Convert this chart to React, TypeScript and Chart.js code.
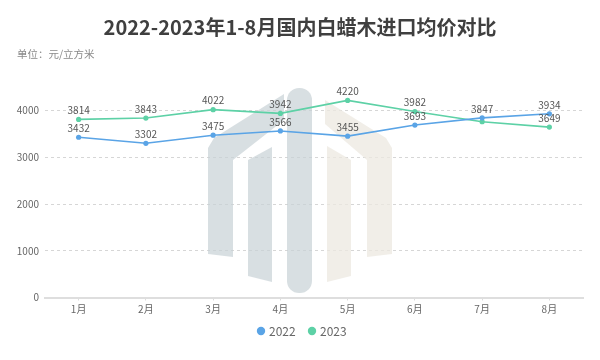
import React, { useEffect, useRef } from "react";
import { Chart, registerables } from "chart.js";

Chart.register(...registerables);

const categories = ["1月", "2月", "3月", "4月", "5月", "6月", "7月", "8月"];
const series2022 = [3432, 3302, 3475, 3566, 3455, 3693, 3847, 3934];
const series2023 = [3814, 3843, 4022, 3942, 4220, 3982, 3765, 3649];
const yTicks = [0, 1000, 2000, 3000, 4000];

const TITLE = "2022-2023年1-8月国内白蜡木进口均价对比";
const SUBTITLE = "单位：元/立方米";
const FONT = '"Noto Sans CJK SC", "Noto Sans", sans-serif';
const BLUE = "#5aa4e6";
const GREEN = "#5dd1a6";

const decorPlugin = {
  id: "decor",
  beforeDatasetsDraw(chart: any) {
    const ctx = chart.ctx;
    ctx.save();
    // watermark logo
    const gray = "rgba(200,210,214,0.7)";
    const beige = "rgba(236,232,224,0.75)";
    const poly = (pts: number[][], color: string) => {
      ctx.beginPath();
      ctx.moveTo(pts[0][0], pts[0][1]);
      for (let i = 1; i < pts.length; i++) ctx.lineTo(pts[i][0], pts[i][1]);
      ctx.closePath();
      ctx.fillStyle = color;
      ctx.fill();
    };
    poly([[208, 254], [208, 148], [214, 138], [284, 94], [284, 120], [233, 160], [233, 257]], gray);
    poly([[248, 276], [248, 160], [272, 147], [272, 282]], gray);
    ctx.beginPath();
    ctx.fillStyle = gray;
    (ctx as any).roundRect(287, 88, 25, 205, 12);
    ctx.fill();
    poly([[392, 254], [392, 148], [386, 138], [325, 100], [325, 124], [367, 160], [367, 257]], beige);
    poly([[327, 146], [351, 160], [351, 276], [327, 282]], beige);
    ctx.restore();
  },
  afterDraw(chart: any) {
    const ctx = chart.ctx;
    ctx.save();
    // title
    ctx.fillStyle = "#3f3f3f";
    ctx.font = `bold 20px ${FONT}`;
    ctx.textAlign = "center";
    ctx.textBaseline = "middle";
    ctx.fillText(TITLE, 300, 27);
    // subtitle
    ctx.fillStyle = "#8a8a8a";
    ctx.font = `10.5px ${FONT}`;
    ctx.textAlign = "left";
    ctx.fillText(SUBTITLE, 17, 54);
    // data labels with overlap hiding
    ctx.font = `10px ${FONT}`;
    ctx.fillStyle = "#555";
    ctx.textAlign = "center";
    ctx.textBaseline = "bottom";
    const boxes: number[][] = [];
    chart.data.datasets.forEach((ds: any, di: number) => {
      const meta = chart.getDatasetMeta(di);
      meta.data.forEach((pt: any, i: number) => {
        const txt = String(ds.data[i]);
        const w = ctx.measureText(txt).width;
        const x = pt.x;
        const yb = pt.y - 4;
        const b = [x - w / 2, yb - 11, x + w / 2, yb];
        const hit = boxes.some(
          (o) => !(b[2] < o[0] || b[0] > o[2] || b[3] < o[1] || b[1] > o[3])
        );
        if (hit) return;
        boxes.push(b);
        ctx.fillText(txt, x, yb);
      });
    });
    // legend
    const items = [
      { label: "2022", color: BLUE, x: 261 },
      { label: "2023", color: GREEN, x: 312 },
    ];
    ctx.font = `12px ${FONT}`;
    ctx.textBaseline = "middle";
    ctx.textAlign = "left";
    items.forEach((it) => {
      ctx.beginPath();
      ctx.fillStyle = it.color;
      ctx.arc(it.x, 331, 4.2, 0, Math.PI * 2);
      ctx.fill();
      ctx.fillStyle = "#666";
      ctx.fillText(it.label, it.x + 8, 331);
    });
    ctx.restore();
  },
};

export default function App() {
  const ref = useRef<HTMLCanvasElement>(null);
  useEffect(() => {
    if (!ref.current) return;
    const chart = new Chart(ref.current, {
      type: "line",
      data: {
        labels: categories,
        datasets: [
          {
            label: "2022",
            data: series2022,
            borderColor: BLUE,
            backgroundColor: BLUE,
            borderWidth: 1.6,
            pointRadius: 2.6,
            pointBorderWidth: 0,
            tension: 0,
          },
          {
            label: "2023",
            data: series2023,
            borderColor: GREEN,
            backgroundColor: GREEN,
            borderWidth: 1.6,
            pointRadius: 2.6,
            pointBorderWidth: 0,
            tension: 0,
          },
        ],
      },
      options: {
        responsive: false,
        animation: false,
        layout: { padding: { left: 0, right: 17, top: 64, bottom: 42.5 } },
        plugins: {
          legend: { display: false },
          title: { display: false },
          tooltip: { enabled: false },
        },
        scales: {
          x: {
            type: "category",
            offset: true,
            grid: {
              offset: false,
              drawOnChartArea: false,
              drawTicks: true,
              tickLength: 3,
              color: "#dcdcdc",
            },
            border: { color: "#dedede", width: 2 },
            ticks: {
              color: "#666",
              font: { size: 10, family: FONT },
              padding: 3,
              maxRotation: 0,
            },
            afterFit(scale: any) {
              scale.height = 20;
            },
          },
          y: {
            min: 0,
            max: 5000,
            grid: {
              color: "#d6d6d6",
              drawTicks: false,
            },
            border: { display: false, dash: [3, 3] },
            ticks: {
              color: "#666",
              font: { size: 10, family: FONT },
              padding: 6,
              callback: (v: any) => String(v),
            },
            afterBuildTicks(scale: any) {
              scale.ticks = yTicks.map((v) => ({ value: v }));
            },
            afterFit(scale: any) {
              scale.width = 45;
            },
          },
        },
      },
      plugins: [decorPlugin],
    });
    return () => chart.destroy();
  }, []);
  return (
    <div style={{ position: "fixed", left: 0, top: 0, width: 600, height: 360, background: "#fff" }}>
      <canvas ref={ref} width={600} height={360} />
    </div>
  );
}
